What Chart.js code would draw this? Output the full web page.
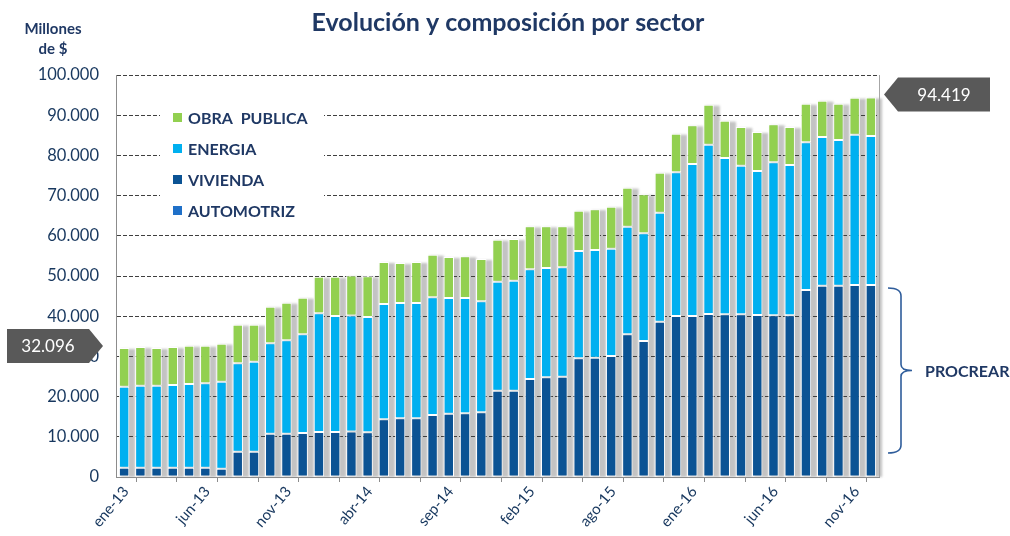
<!DOCTYPE html>
<html>
<head>
<meta charset="utf-8">
<script src="https://cdn.jsdelivr.net/npm/chart.js@4.4.1/dist/chart.umd.min.js"></script>
<style>
  body { margin: 0; background: #fff; }
  #wrap { width: 1010px; height: 536px; }
</style>
</head>
<body>
<div id="wrap"><canvas id="chart"></canvas></div>
<script>
// meses (falta jul-15 en la serie original)
const categories = [
  "ene-13","feb-13","mar-13","abr-13","may-13","jun-13","jul-13","ago-13","sep-13","oct-13","nov-13","dic-13",
  "ene-14","feb-14","mar-14","abr-14","may-14","jun-14","jul-14","ago-14","sep-14","oct-14","nov-14","dic-14",
  "ene-15","feb-15","mar-15","abr-15","may-15","jun-15","ago-15","sep-15","oct-15","nov-15","dic-15",
  "ene-16","feb-16","mar-16","abr-16","may-16","jun-16","jul-16","ago-16","sep-16","oct-16","nov-16","dic-16"
];

// millones de $
const automotriz = [
  0,0,0,0,0,0,0,0,0,0,0,0,0,0,0,0,0,0,0,0,0,0,0,0,
  0,0,0,0,0,0,0,0,0,0,0,0,0,0,0,0,0,0,0,0,0,0,0
];
const vivienda = [
  2300,2300,2300,2300,2300,2300,2060,6300,6300,10780,10780,10950,
  11190,11190,11300,11110,14350,14590,14590,15420,15750,15840,16090,21470,
  21470,24380,24800,24950,29530,29680,30100,35490,33830,38630,40050,
  40050,40550,40470,40470,40300,40220,40220,46520,47590,47590,47760,47760
];
const energia = [
  20160,20410,20410,20590,20830,21000,21650,21980,22390,22470,23220,24550,
  29530,28860,28900,28690,28680,28690,28690,29280,28780,28690,27610,27120,
  27360,27290,27190,27210,26690,26790,26700,26780,26790,27120,35740,
  37810,42110,38880,36970,35820,38060,37390,36730,36990,36240,37390,37070
];
const obraPublica = [
  9636,9630,9380,9450,9540,9370,9460,9610,9200,9120,9360,9100,
  9080,9750,9900,10120,10450,9950,10200,10600,10200,10370,10530,10450,
  10370,10690,10370,10200,10030,10160,10440,9700,9700,9950,9610,
  9620,9950,9280,9620,9700,9450,9450,9610,9030,9030,9200,9589
];

const yTicks = [0,10000,20000,30000,40000,50000,60000,70000,80000,90000,100000];

const navy = "#17375E";
const fmt = v => String(Math.round(v)).replace(/\B(?=(\d{3})+(?!\d))/g, ".");
const totals = categories.map((c, i) => automotriz[i] + vivienda[i] + energia[i] + obraPublica[i]);

const toXY = arr => arr.map((v, i) => ({ x: i, y: v }));

// sombra gris detras de cada columna
const shadowPlugin = {
  id: "shadows",
  beforeDraw(chart) {
    const ctx = chart.ctx;
    const y = chart.scales.y;
    const base = y.getPixelForValue(0);
    const bars = chart.getDatasetMeta(3).data;
    ctx.save();
    ctx.filter = "blur(0.8px)";
    ctx.fillStyle = "#c3c3c3";
    bars.forEach(el => {
      const w = el.width;
      ctx.fillRect(el.x - w / 2 + 2, el.y + 1, w + 4, base - el.y - 1);
    });
    ctx.restore();
  }
};

const extrasPlugin = {
  id: "extras",
  afterDraw(chart) {
    const ctx = chart.ctx;
    const area = chart.chartArea;
    const y = chart.scales.y;
    ctx.save();

    // borde derecho
    ctx.strokeStyle = "#a6a6a6";
    ctx.lineWidth = 1;
    ctx.beginPath();
    ctx.moveTo(area.right + 0.5, area.top);
    ctx.lineTo(area.right + 0.5, area.bottom);
    ctx.stroke();

    // titulo
    ctx.fillStyle = "#1F3864";
    ctx.textAlign = "center";
    ctx.textBaseline = "middle";
    ctx.font = "bold 25px Lato";
    ctx.fillText("Evolución y composición por sector", 508, 23);
    ctx.font = "bold 15px Lato";
    ctx.fillText("Millones", 53, 29);
    ctx.fillText("de $", 53, 49);

    // leyenda
    ctx.fillStyle = "#fff";
    ctx.fillRect(160, 103, 164, 120);
    const items = chart.data.datasets.slice().reverse();
    ctx.textAlign = "left";
    ctx.font = "bold 16px Lato";
    items.forEach((ds, k) => {
      const cy = 118 + k * 31;
      ctx.fillStyle = ds.backgroundColor;
      ctx.fillRect(173, cy - 5, 9, 9);
      ctx.fillStyle = "#1F3864";
      ctx.fillText(ds.label, 188, cy + 1);
    });

    // recuadros de valores
    const drawCallout = (text, tipX, tipY, dir, w) => {
      const h = 34, a = 14;
      ctx.fillStyle = "#595959";
      ctx.beginPath();
      if (dir === "right") {
        const r = tipX - a;
        ctx.moveTo(r - w, tipY - h / 2);
        ctx.lineTo(r, tipY - h / 2);
        ctx.lineTo(tipX, tipY);
        ctx.lineTo(r, tipY + h / 2);
        ctx.lineTo(r - w, tipY + h / 2);
      } else {
        const l = tipX + a;
        ctx.moveTo(l + w, tipY - h / 2);
        ctx.lineTo(l, tipY - h / 2);
        ctx.lineTo(tipX, tipY);
        ctx.lineTo(l, tipY + h / 2);
        ctx.lineTo(l + w, tipY + h / 2);
      }
      ctx.closePath();
      ctx.fill();
      ctx.fillStyle = "#fff";
      ctx.font = "17px Lato";
      ctx.textAlign = "center";
      const cx = dir === "right" ? tipX - a - w / 2 : tipX + a + w / 2;
      ctx.fillText(text, cx, tipY + 1);
    };
    const last = totals.length - 1;
    drawCallout(fmt(totals[0]), 103, y.getPixelForValue(totals[0]) - 2, "right", 82);
    drawCallout(fmt(totals[last]), 884, y.getPixelForValue(totals[last]) - 3, "left", 92);

    // llave PROCREAR
    const top = y.getPixelForValue(vivienda[last]) + 3;
    const bot = area.bottom - 24;
    const mid = (top + bot) / 2;
    const bx = 901;
    ctx.strokeStyle = "#2F5D9B";
    ctx.lineWidth = 1.6;
    ctx.beginPath();
    ctx.moveTo(888, top);
    ctx.quadraticCurveTo(bx, top, bx, top + 8);
    ctx.lineTo(bx, mid - 6);
    ctx.quadraticCurveTo(bx, mid, 912, mid);
    ctx.quadraticCurveTo(bx, mid, bx, mid + 6);
    ctx.lineTo(bx, bot - 8);
    ctx.quadraticCurveTo(bx, bot, 888, bot);
    ctx.stroke();
    ctx.fillStyle = "#1F3864";
    ctx.textAlign = "left";
    ctx.font = "bold 16px Lato";
    ctx.fillText("PROCREAR", 925, mid + 1);

    ctx.restore();
  }
};

const barStyle = {
  borderColor: "#ffffff",
  borderWidth: 1,
  borderSkipped: false,
  barPercentage: 0.64,
  categoryPercentage: 1
};

new Chart(document.getElementById("chart"), {
  type: "bar",
  data: {
    datasets: [
      { label: "AUTOMOTRIZ", data: toXY(automotriz), backgroundColor: "#1F70C8", ...barStyle, borderWidth: 0 },
      { label: "VIVIENDA", data: toXY(vivienda), backgroundColor: "#0B5394", ...barStyle },
      { label: "ENERGIA", data: toXY(energia), backgroundColor: "#00B0F0", ...barStyle },
      { label: "OBRA  PUBLICA", data: toXY(obraPublica), backgroundColor: "#92D050", ...barStyle }
    ]
  },
  options: {
    responsive: true,
    maintainAspectRatio: false,
    animation: false,
    layout: { padding: { left: 0, right: 131, top: 75, bottom: 0 } },
    plugins: { legend: { display: false }, tooltip: { enabled: false } },
    scales: {
      x: {
        type: "linear",
        stacked: true,
        min: -0.5,
        max: categories.length - 0.5,
        offset: false,
        afterBuildTicks: s => {
          s.ticks = [];
          for (let k = 0; k <= 18; k++) s.ticks.push({ value: -0.5 + 2.5 * k });
        },
        ticks: {
          autoSkip: false,
          maxRotation: 50,
          minRotation: 50,
          padding: 1,
          labelOffset: 10,
          color: navy,
          font: { family: "Lato", size: 15 },
          callback: v => {
            const i = v + 0.5;
            return i % 5 === 0 ? categories[i] : "";
          }
        },
        grid: { drawOnChartArea: false, drawTicks: true, tickLength: 5, tickColor: "#8c8c8c" },
        border: { color: "#8c8c8c" },
        afterFit: s => { s.height = 59; }
      },
      y: {
        stacked: true,
        min: 0,
        max: 100000,
        afterBuildTicks: s => { s.ticks = yTicks.map(v => ({ value: v })); },
        ticks: {
          padding: 17,
          color: navy,
          font: { family: "Lato", size: 16.5 },
          callback: v => fmt(v)
        },
        grid: { color: "#3f3f3f", lineWidth: 1, drawTicks: false },
        border: { color: "#8c8c8c", dash: [4, 2] },
        afterFit: s => { s.width = 116; }
      }
    }
  },
  plugins: [shadowPlugin, extrasPlugin]
});
</script>
</body>
</html>
